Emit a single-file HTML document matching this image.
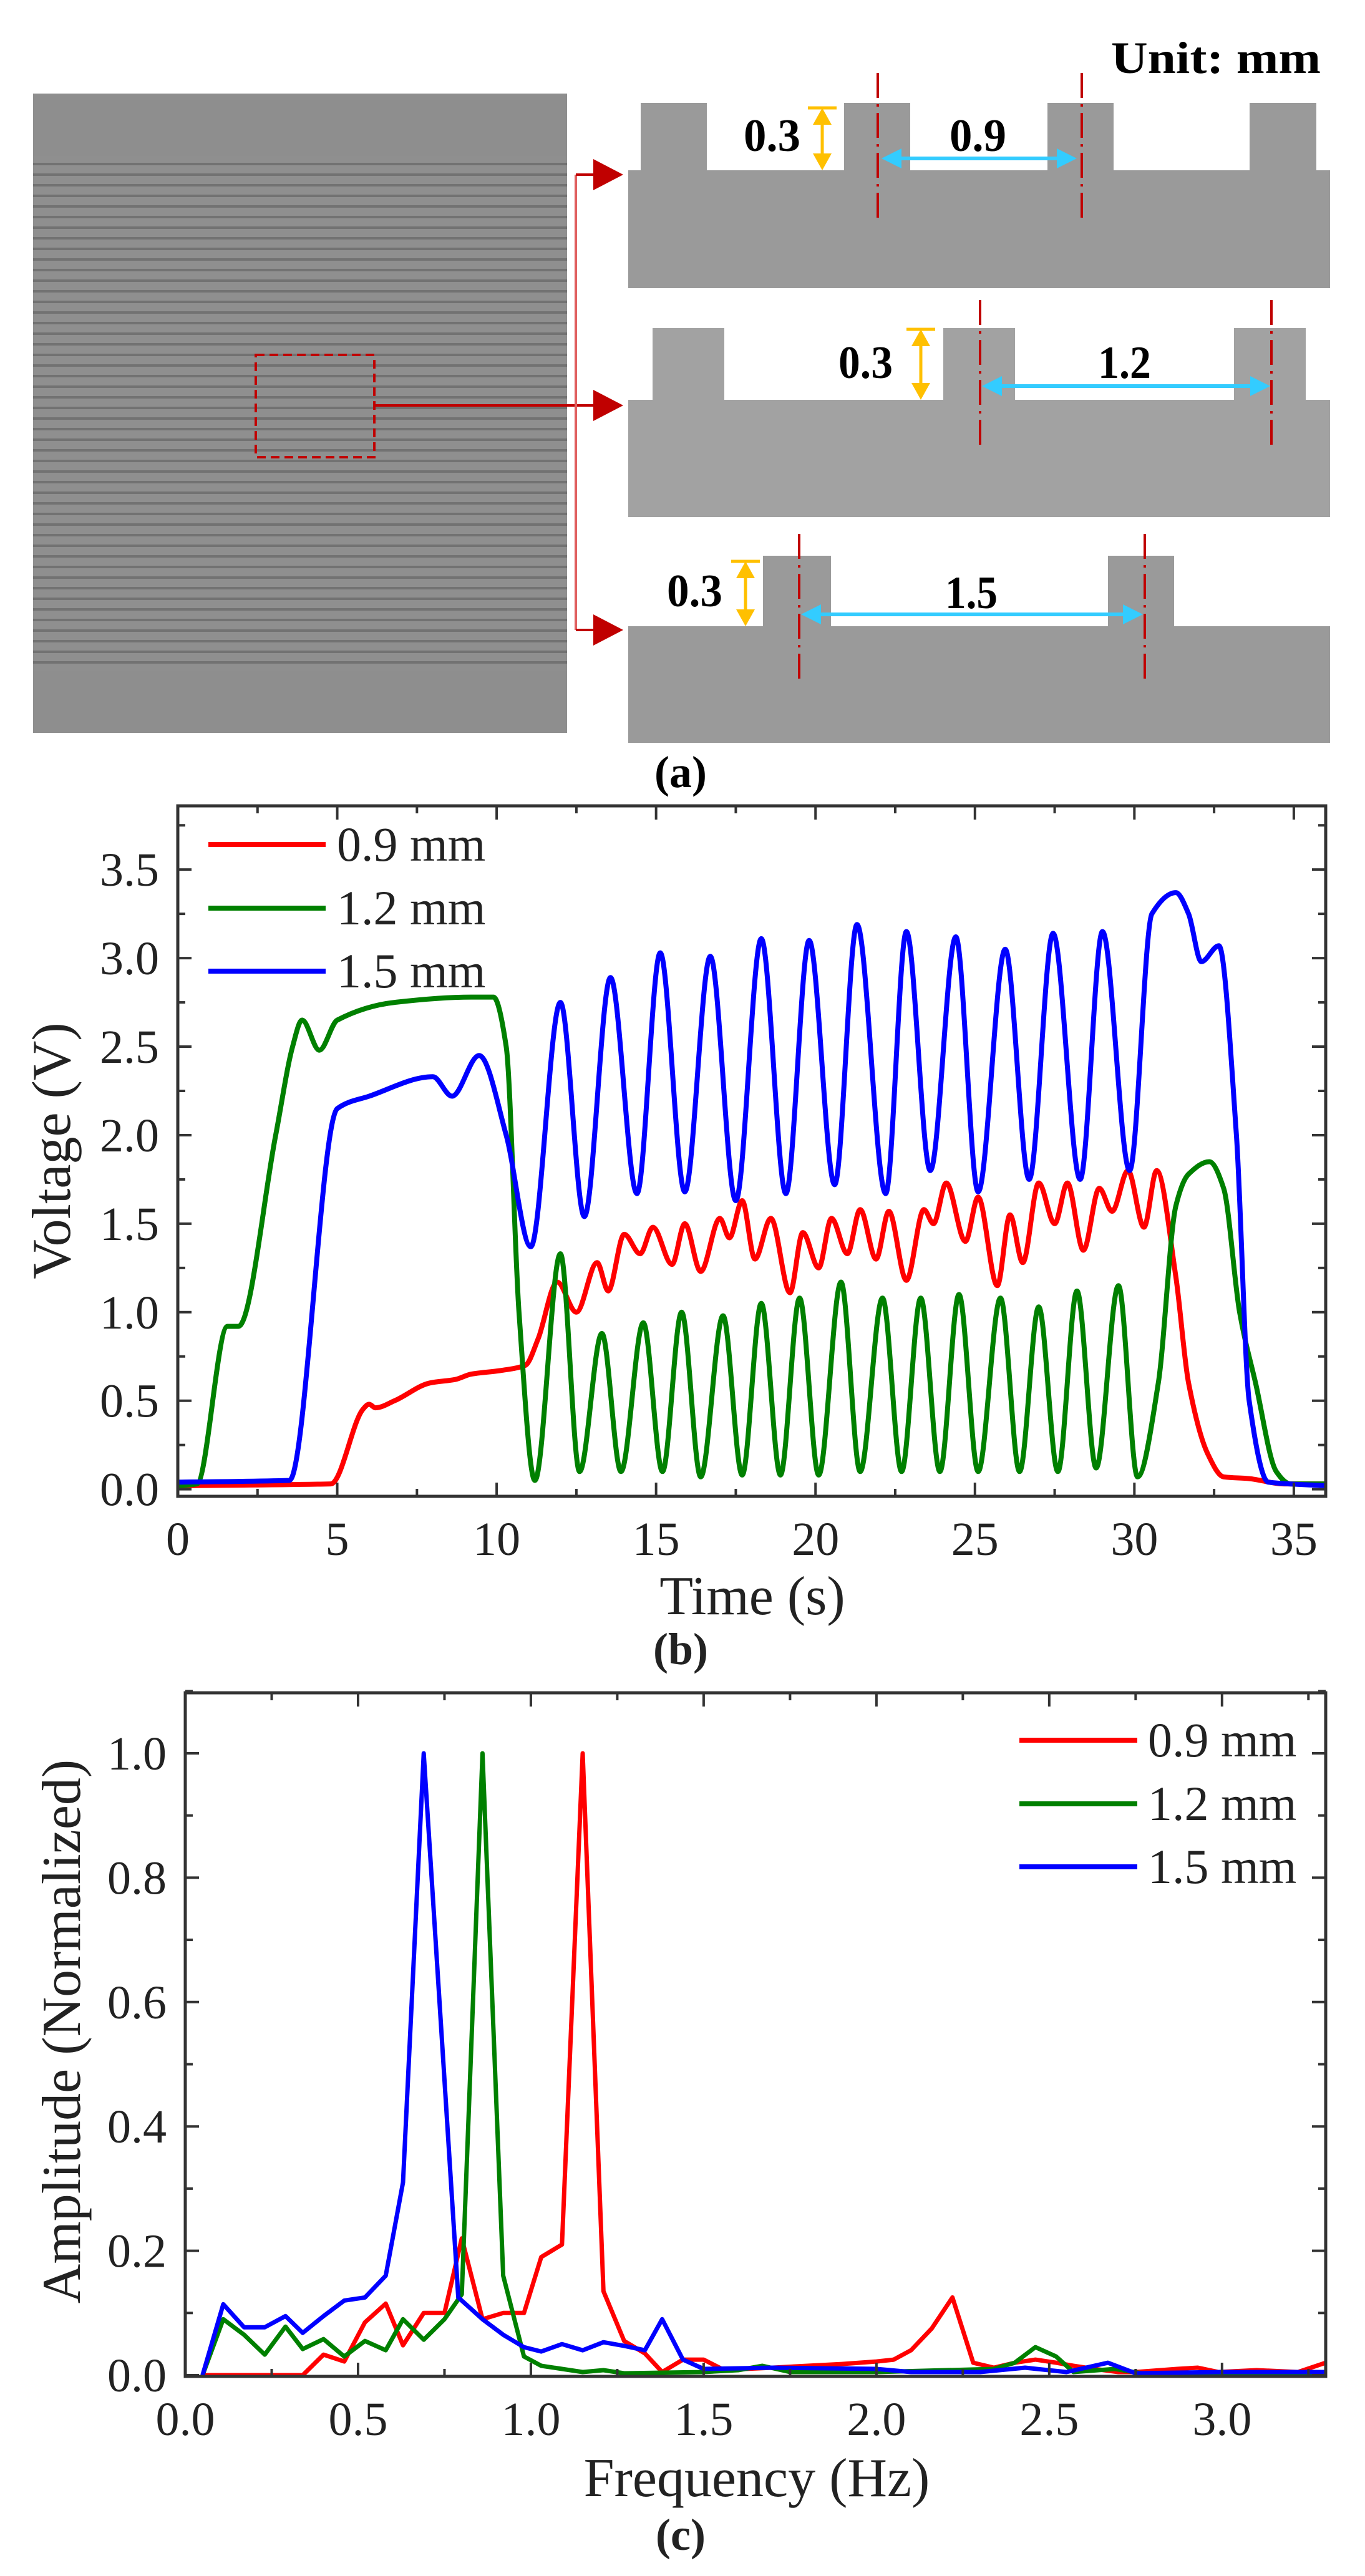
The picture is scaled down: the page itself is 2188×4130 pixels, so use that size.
<!DOCTYPE html>
<html><head><meta charset="utf-8"><style>
html,body{margin:0;padding:0;background:#fff}
svg{display:block}
text{font-family:"Liberation Serif",serif}
</style></head><body>
<svg id="fig" width="2188" height="4130" viewBox="0 0 2188 4130" xmlns="http://www.w3.org/2000/svg">
<defs>
<pattern id="stripes" x="0" y="250" width="17" height="17" patternUnits="userSpaceOnUse">
<rect width="17" height="17" fill="#8f8f8f"/><rect y="11" width="17" height="4" fill="#727272"/>
</pattern>
</defs>
<g>
<rect x="53" y="150" width="856" height="1025" fill="#8e8e8e"/>
<rect x="53" y="250" width="856" height="825" fill="url(#stripes)"/>
<rect x="410" y="569" width="190" height="164" fill="none" stroke="#c00000" stroke-width="4" stroke-dasharray="14,8"/>
<g stroke="#c00000" stroke-width="4" fill="#c00000">
<line x1="600" y1="650" x2="955" y2="650"/>
<line x1="923" y1="280" x2="923" y2="1010" stroke="#e06060"/>
<line x1="923" y1="280" x2="955" y2="280"/>
<line x1="923" y1="1010" x2="955" y2="1010"/>
<polygon points="951,255 999,280 951,305" stroke="none"/>
<polygon points="951,625 999,650 951,675" stroke="none"/>
<polygon points="951,985 999,1010 951,1035" stroke="none"/>
</g>
<text x="1781" y="117" font-size="72" font-weight="bold" textLength="336" lengthAdjust="spacingAndGlyphs">Unit: mm</text>
<g fill="#9a9a9a">
<rect x="1007" y="273" width="1125" height="189"/>
<rect x="1027" y="165" width="106" height="110"/><rect x="1353" y="165" width="106" height="110"/>
<rect x="1679" y="165" width="106" height="110"/><rect x="2003" y="165" width="107" height="110"/>
</g>
<g stroke="#c00000" stroke-width="4" stroke-dasharray="40,10,4,10"><line x1="1407" y1="117" x2="1407" y2="358"/><line x1="1734" y1="117" x2="1734" y2="358"/></g>
<g fill="#a2a2a2">
<rect x="1007" y="641" width="1125" height="188"/>
<rect x="1046" y="526" width="115" height="117"/><rect x="1512" y="526" width="115" height="117"/><rect x="1978" y="526" width="115" height="117"/>
</g>
<g stroke="#c00000" stroke-width="4" stroke-dasharray="40,10,4,10"><line x1="1571" y1="481" x2="1571" y2="720"/><line x1="2038" y1="481" x2="2038" y2="720"/></g>
<g fill="#9a9a9a">
<rect x="1007" y="1004" width="1125" height="187"/>
<rect x="1223" y="891" width="109" height="115"/><rect x="1776" y="891" width="106" height="115"/>
</g>
<g stroke="#c00000" stroke-width="4" stroke-dasharray="40,10,4,10"><line x1="1281" y1="856" x2="1281" y2="1095"/><line x1="1835" y1="856" x2="1835" y2="1095"/></g>
<g stroke="#ffc000" stroke-width="5" fill="#ffc000">
<line x1="1318" y1="178" x2="1318" y2="268"/><line x1="1295" y1="173" x2="1341" y2="173"/>
<polygon points="1303,200 1318,173 1333,200" stroke="none"/><polygon points="1303,246 1318,273 1333,246" stroke="none"/>
<line x1="1476" y1="533" x2="1476" y2="636"/><line x1="1453" y1="528" x2="1499" y2="528"/>
<polygon points="1461,555 1476,528 1491,555" stroke="none"/><polygon points="1461,614 1476,641 1491,614" stroke="none"/>
<line x1="1195" y1="905" x2="1195" y2="999"/><line x1="1172" y1="900" x2="1218" y2="900"/>
<polygon points="1180,927 1195,900 1210,927" stroke="none"/><polygon points="1180,977 1195,1004 1210,977" stroke="none"/>
</g>
<g stroke="#33ccff" stroke-width="6" fill="#33ccff">
<line x1="1430" y1="254" x2="1710" y2="254"/><polygon points="1445,238 1413,254 1445,270" stroke="none"/><polygon points="1694,238 1726,254 1694,270" stroke="none"/>
<line x1="1590" y1="619" x2="2020" y2="619"/><polygon points="1606,603 1574,619 1606,635" stroke="none"/><polygon points="2004,603 2036,619 2004,635" stroke="none"/>
<line x1="1300" y1="985" x2="1815" y2="985"/><polygon points="1316,969 1284,985 1316,1001" stroke="none"/><polygon points="1800,969 1832,985 1800,1001" stroke="none"/>
</g>
<g font-size="74" font-weight="bold">
<text x="1192" y="242" textLength="91" lengthAdjust="spacingAndGlyphs">0.3</text>
<text x="1522" y="242" textLength="91" lengthAdjust="spacingAndGlyphs">0.9</text>
<text x="1344" y="606" textLength="87" lengthAdjust="spacingAndGlyphs">0.3</text>
<text x="1760" y="606" textLength="85" lengthAdjust="spacingAndGlyphs">1.2</text>
<text x="1069" y="972" textLength="89" lengthAdjust="spacingAndGlyphs">0.3</text>
<text x="1515" y="975" textLength="84" lengthAdjust="spacingAndGlyphs">1.5</text>
</g>
<text x="1091" y="1262" font-size="72" font-weight="bold" text-anchor="middle">(a)</text>
</g>
<g id="pb"></g>
<g id="pc"></g>
</svg>
<script>
const tRed=[0,4.8,5.8,6.0,6.2,6.8,7.9,8.7,9.2,10.1,10.9,11.3,11.9,12.5,13.15,13.5,14.0,14.5,14.9,15.5,15.9,16.4,17.0,17.3,17.7,18.1,18.6,19.2,19.6,20.1,20.5,21.0,21.4,21.9,22.3,22.85,23.4,23.7,24.1,24.7,25.1,25.7,26.1,26.5,27.0,27.5,27.9,28.4,28.9,29.3,29.8,30.3,30.7,31.3,31.7,32.3,32.8,33.6,34.7,36];
const vRed=[0.02,0.03,0.45,0.48,0.46,0.5,0.6,0.62,0.65,0.67,0.7,0.85,1.17,1.0,1.28,1.12,1.44,1.33,1.48,1.27,1.5,1.23,1.53,1.42,1.63,1.3,1.53,1.11,1.45,1.25,1.53,1.33,1.58,1.3,1.57,1.18,1.58,1.5,1.73,1.4,1.65,1.15,1.55,1.28,1.73,1.5,1.73,1.35,1.7,1.57,1.8,1.48,1.8,1.2,0.6,0.2,0.07,0.06,0.03,0.03];
const tGreen=[0,0.6,1.56,1.9,3.07,3.6,3.9,4.44,5.0,6.8,9.2,9.9,10.3,10.7,11.2,12.0,12.6,13.3,13.9,14.6,15.2,15.8,16.4,17.1,17.7,18.3,18.9,19.5,20.1,20.8,21.4,22.1,22.7,23.3,23.9,24.5,25.1,25.8,26.4,27.0,27.6,28.2,28.8,29.5,30.1,30.75,31.3,31.7,32.35,32.8,33.3,33.8,34.45,34.9,36];
const vGreen=[0.02,0.03,0.92,0.92,2.0,2.5,2.65,2.48,2.65,2.75,2.78,2.78,2.5,1.0,0.05,1.33,0.1,0.88,0.1,0.94,0.1,1.0,0.07,0.98,0.08,1.05,0.08,1.08,0.08,1.17,0.1,1.08,0.1,1.08,0.1,1.1,0.1,1.08,0.1,1.03,0.1,1.12,0.12,1.15,0.07,0.6,1.6,1.78,1.85,1.7,1.0,0.6,0.1,0.03,0.03];
const tBlue=[0,3.5,5.0,6.0,8.0,8.6,9.45,10.3,11.07,12.0,12.75,13.57,14.4,15.13,15.9,16.7,17.5,18.3,19.07,19.8,20.6,21.3,22.2,22.85,23.6,24.4,25.1,25.95,26.7,27.45,28.3,29.0,29.85,30.55,31.3,31.7,32.1,32.65,33.2,33.6,34.2,36];
const vBlue=[0.04,0.05,2.15,2.22,2.33,2.22,2.45,2.0,1.37,2.75,1.54,2.89,1.67,3.03,1.68,3.01,1.63,3.11,1.67,3.1,1.72,3.19,1.67,3.15,1.8,3.12,1.68,3.05,1.75,3.14,1.75,3.15,1.8,3.25,3.37,3.25,2.98,3.07,2.0,0.5,0.04,0.02];
const bXTicks=[0,5,10,15,20,25,30,35];
const bYTicks=[0.0,0.5,1.0,1.5,2.0,2.5,3.0,3.5];
const bLegend=["0.9 mm","1.2 mm","1.5 mm"];
const fRed=[0.05,0.11,0.17,0.23,0.29,0.34,0.40,0.46,0.52,0.58,0.63,0.69,0.75,0.80,0.86,0.92,0.98,1.03,1.09,1.15,1.21,1.27,1.33,1.38,1.44,1.50,1.56,1.62,1.7,1.8,1.9,2.0,2.05,2.1,2.16,2.22,2.28,2.34,2.40,2.46,2.52,2.57,2.63,2.70,2.75,2.87,2.93,2.99,3.1,3.22,3.3];
const aRed=[0,0,0,0,0,0,0.033,0.022,0.085,0.115,0.048,0.1,0.1,0.22,0.09,0.1,0.1,0.19,0.21,1.0,0.135,0.055,0.035,0.005,0.025,0.025,0.008,0.01,0.012,0.015,0.018,0.022,0.025,0.04,0.075,0.125,0.02,0.012,0.02,0.025,0.02,0.015,0.01,0.005,0.005,0.01,0.012,0.005,0.008,0.005,0.02];
const fGreen=[0.05,0.11,0.17,0.23,0.29,0.34,0.40,0.46,0.52,0.58,0.63,0.69,0.75,0.80,0.86,0.92,0.98,1.03,1.09,1.15,1.21,1.27,1.5,1.6,1.67,1.75,2.0,2.34,2.40,2.46,2.52,2.57,2.69,2.8,3.3];
const aGreen=[0,0.09,0.065,0.033,0.078,0.042,0.058,0.03,0.055,0.04,0.09,0.057,0.09,0.13,1.0,0.16,0.03,0.015,0.01,0.005,0.008,0.003,0.005,0.008,0.015,0.005,0.005,0.01,0.02,0.045,0.03,0.005,0.01,0,0];
const fBlue=[0.05,0.11,0.17,0.23,0.29,0.34,0.40,0.46,0.52,0.58,0.63,0.69,0.79,0.86,0.92,0.98,1.03,1.09,1.15,1.21,1.27,1.33,1.38,1.44,1.50,1.7,2.0,2.1,2.3,2.43,2.55,2.67,2.75,3.0,3.3];
const aBlue=[0,0.114,0.077,0.077,0.095,0.068,0.095,0.12,0.125,0.16,0.31,1.0,0.125,0.09,0.065,0.045,0.038,0.05,0.04,0.053,0.047,0.04,0.09,0.025,0.01,0.012,0.01,0.005,0.005,0.012,0.005,0.02,0.003,0.005,0.005];
const cXTicks=[0.0,0.5,1.0,1.5,2.0,2.5,3.0];
const cYTicks=[0.0,0.2,0.4,0.6,0.8,1.0];

const NS="http://www.w3.org/2000/svg";
function mk(parent,tag,attrs,text){const e=document.createElementNS(NS,tag);for(const k in attrs)e.setAttribute(k,attrs[k]);if(text!==undefined)e.textContent=text;parent.appendChild(e);return e;}
// monotone cubic (Fritsch-Carlson), no overshoot
function smoothPath(px){const n=px.length;const dx=[],m=[],d=[];
  for(let i=0;i<n-1;i++){dx[i]=px[i+1][0]-px[i][0];d[i]=(px[i+1][1]-px[i][1])/dx[i];}
  m[0]=d[0];m[n-1]=d[n-2];
  for(let i=1;i<n-1;i++){m[i]=(d[i-1]*d[i]<=0)?0:(2/(1/d[i-1]+1/d[i]));}
  let s="M"+px[0][0].toFixed(1)+","+px[0][1].toFixed(1);
  for(let i=0;i<n-1;i++){const h=dx[i]/3;
    s+=" C"+(px[i][0]+h).toFixed(1)+","+(px[i][1]+m[i]*h).toFixed(1)+" "+(px[i+1][0]-h).toFixed(1)+","+(px[i+1][1]-m[i+1]*h).toFixed(1)+" "+px[i+1][0].toFixed(1)+","+px[i+1][1].toFixed(1);}
  return s;}
function linePath(px){return px.map((p,i)=>(i?"L":"M")+p[0].toFixed(1)+","+p[1].toFixed(1)).join(" ");}

function drawAxes(g,L,R,T,B,sx,sy,xt,yt,xminor,yminor,xmin,xmax,ymin,ymax,fmt){
  for(let v=xmin;v<=xmax+1e-9;v+=xminor){const x=sx(v);const major=xt.some(t=>Math.abs(t-v)<1e-6);const len=major?22:12;
    mk(g,"line",{x1:x,y1:B,x2:x,y2:B-len,stroke:"#333","stroke-width":4});mk(g,"line",{x1:x,y1:T,x2:x,y2:T+len,stroke:"#333","stroke-width":4});}
  for(let v=ymin;v<=ymax+1e-9;v+=yminor){const y=sy(v);const major=yt.some(t=>Math.abs(t-v)<1e-6);const len=major?22:12;
    mk(g,"line",{x1:L,y1:y,x2:L+len,y2:y,stroke:"#333","stroke-width":4});mk(g,"line",{x1:R,y1:y,x2:R-len,y2:y,stroke:"#333","stroke-width":4});}
  xt.forEach(v=>{const t=mk(g,"text",{x:sx(v),y:B+94,"font-size":76,"text-anchor":"middle",fill:"#222"},fmt(v));
    
    });
  yt.forEach(v=>{const t=mk(g,"text",{x:L-30,y:sy(v)+26,"font-size":76,"text-anchor":"end",fill:"#222"},v.toFixed(1));
    
    });
}
const colors=["#ff0000","#008000","#0000ff"];

(function(){
  const g=document.getElementById("pb");
  const L=285,R=2125,T=1292,B=2399,X0=0,X1=36,Y0=-0.04,Y1=3.86;
  const sx=v=>L+(v-X0)/(X1-X0)*(R-L), sy=v=>B-(v-Y0)/(Y1-Y0)*(B-T);
  const series=[[tRed,vRed],[tGreen,vGreen],[tBlue,vBlue]];
  const names=['series-0.9mm','series-1.2mm','series-1.5mm'];
  series.forEach((s,i)=>{const px=s[0].map((t,j)=>[sx(t),sy(s[1][j])]);
    const p=mk(g,"path",{d:smoothPath(px),fill:"none",stroke:colors[i],"stroke-width":8,"stroke-linejoin":"round"});
    
    });
  drawAxes(g,L,R,T,B,sx,sy,bXTicks,bYTicks,2.5,0.25,0,36,0,3.86,v=>String(v));
  const fr=mk(g,"rect",{x:L,y:T,width:R-L,height:B-T,fill:"none",stroke:"#333","stroke-width":5});
  
  
  const ly=[1354,1456,1557];
  bLegend.forEach((n,i)=>{const l=mk(g,"line",{x1:334,y1:ly[i],x2:522,y2:ly[i],stroke:colors[i],"stroke-width":8});
    
    
    const t=mk(g,"text",{x:540,y:ly[i]+26,"font-size":78,fill:"#222"},n);
    
    });
  const yl=mk(g,"text",{x:0,y:0,"font-size":88,"text-anchor":"middle",fill:"#222",transform:"translate(112,1845) rotate(-90)"},"Voltage (V)");
  
  
  const xl=mk(g,"text",{x:1206,y:2588,"font-size":88,"text-anchor":"middle",fill:"#222"},"Time (s)");
  
  
  const cap=mk(g,"text",{x:1091,y:2668,"font-size":72,"font-weight":"bold","text-anchor":"middle",fill:"#222"},"(b)");
  
  
})();

(function(){
  const g=document.getElementById("pc");
  const L=297,R=2125,T=2714,B=3810,X0=0,X1=3.3,Y0=0,Y1=1.1;
  const sx=v=>L+(v-X0)/(X1-X0)*(R-L), sy=v=>3808-(v-Y0)*997;
  const series=[[fRed,aRed],[fGreen,aGreen],[fBlue,aBlue]];
  const names=['fft-0.9mm','fft-1.2mm','fft-1.5mm'];
  series.forEach((s,i)=>{const px=s[0].map((f,j)=>[sx(f),sy(s[1][j])]);
    const p=mk(g,"path",{d:linePath(px),fill:"none",stroke:colors[i],"stroke-width":7,"stroke-linejoin":"round"});
    
    });
  drawAxes(g,L,R,T,B,sx,sy,cXTicks,cYTicks,0.25,0.1,0,3.3,0,1.1,v=>v.toFixed(1));
  const fr=mk(g,"rect",{x:L,y:T,width:R-L,height:B-T,fill:"none",stroke:"#333","stroke-width":5});
  
  
  const ly=[2790,2892,2993];
  bLegend.forEach((n,i)=>{const l=mk(g,"line",{x1:1634,y1:ly[i],x2:1823,y2:ly[i],stroke:colors[i],"stroke-width":8});
    
    
    const t=mk(g,"text",{x:1840,y:ly[i]+26,"font-size":78,fill:"#222"},n);
    
    });
  const yl=mk(g,"text",{x:0,y:0,"font-size":88,"text-anchor":"middle",fill:"#222",transform:"translate(128,3257) rotate(-90)"},"Amplitude (Normalized)");
  
  
  const xl=mk(g,"text",{x:1213,y:4002,"font-size":88,"text-anchor":"middle",fill:"#222"},"Frequency (Hz)");
  
  
  const cap=mk(g,"text",{x:1091,y:4088,"font-size":72,"font-weight":"bold","text-anchor":"middle",fill:"#222"},"(c)");
  
  
})();
</script>
</body></html>
